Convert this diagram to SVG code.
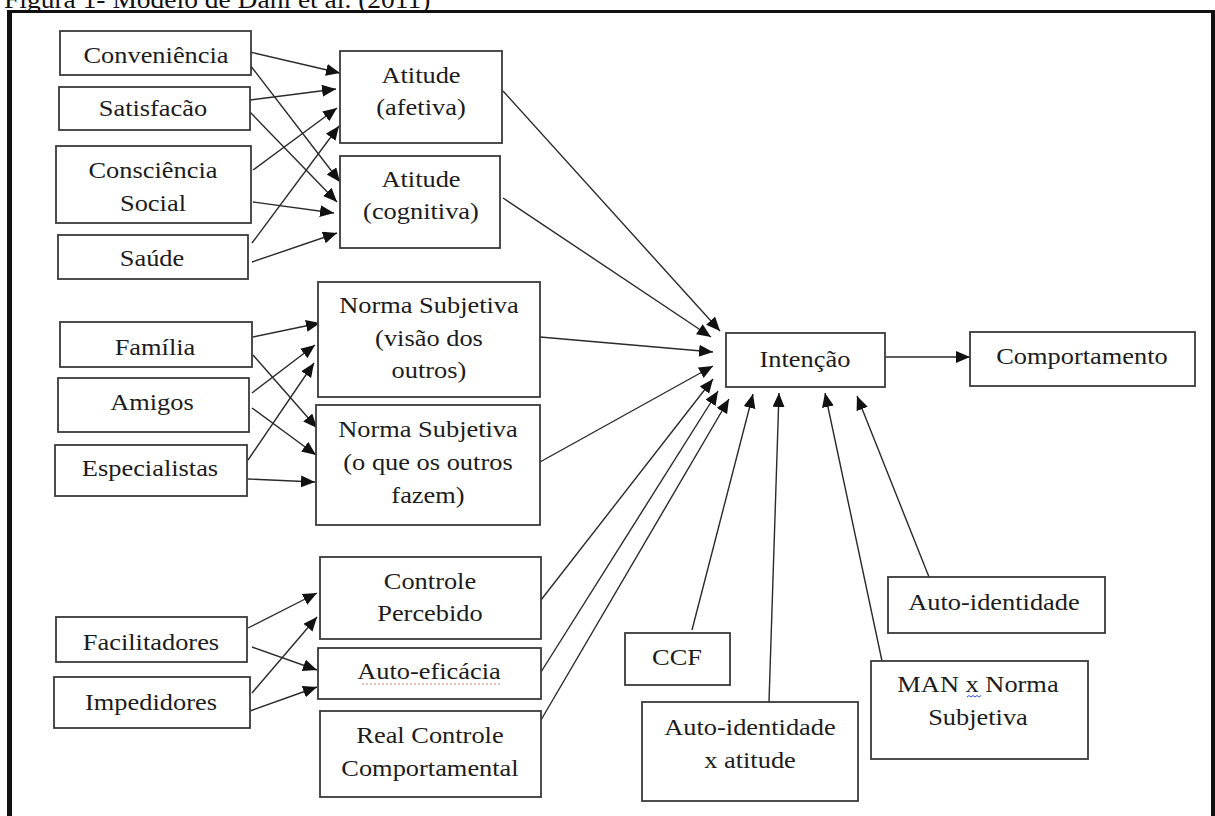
<svg xmlns="http://www.w3.org/2000/svg" width="1215" height="816" viewBox="0 0 1215 816">
<style>
.box { fill: #ffffff; stroke: #3a3a3a; stroke-width: 1.8; }
.t { font-family: "Liberation Serif", "Times New Roman", serif; font-size: 24px; fill: #1c1c1c; text-anchor: middle; transform-box: fill-box; transform-origin: center; transform: scaleX(1.1); }
.ttl { font-family: "Liberation Serif", "Times New Roman", serif; font-size: 25px; fill: #111111; }
.c { stroke: #2a2a2a; stroke-width: 1.4; fill: none; marker-end: url(#ah); }
.frame { stroke: #111111; fill: none; }
</style>
<defs>
<marker id="ah" markerUnits="userSpaceOnUse" markerWidth="16" markerHeight="14" refX="14" refY="6" orient="auto">
<path d="M0,0 L14,6 L0,12 z" fill="#111111"/>
</marker>
</defs>
<rect x="0" y="0" width="1215" height="816" fill="#ffffff"/>
<text class="ttl" transform="translate(4,8) scale(1.1,1)" x="0" y="0">Figura 1- Modelo de Dahl et al. (2011)</text>
<g id="frame">
<line class="frame" x1="7" y1="11.5" x2="1215" y2="11.5" stroke-width="3"/>
<line class="frame" x1="9.5" y1="10" x2="9.5" y2="816" stroke-width="5"/>
<line class="frame" x1="1213" y1="10" x2="1213" y2="816" stroke-width="4"/>
</g>
<g id="connectors">
<line class="c" x1="250" y1="52" x2="340" y2="73"/>
<line class="c" x1="250" y1="65" x2="340" y2="182"/>
<line class="c" x1="250" y1="100" x2="336" y2="89"/>
<line class="c" x1="250" y1="112" x2="337" y2="202"/>
<line class="c" x1="253" y1="170" x2="337" y2="108"/>
<line class="c" x1="253" y1="202" x2="334" y2="213"/>
<line class="c" x1="252" y1="243" x2="339" y2="126"/>
<line class="c" x1="252" y1="262" x2="337" y2="233"/>
<line class="c" x1="253" y1="337" x2="320" y2="323"/>
<line class="c" x1="253" y1="355" x2="317" y2="428"/>
<line class="c" x1="252" y1="393" x2="315" y2="345"/>
<line class="c" x1="252" y1="408" x2="316" y2="455"/>
<line class="c" x1="248" y1="460" x2="314" y2="363"/>
<line class="c" x1="248" y1="479" x2="315" y2="482"/>
<line class="c" x1="248" y1="628" x2="317" y2="593"/>
<line class="c" x1="252" y1="647" x2="317" y2="670"/>
<line class="c" x1="252" y1="693" x2="317" y2="617"/>
<line class="c" x1="250" y1="711" x2="317" y2="687"/>
<line class="c" x1="503" y1="91" x2="720" y2="331"/>
<line class="c" x1="503" y1="198" x2="711" y2="337"/>
<line class="c" x1="540" y1="337" x2="713" y2="352"/>
<line class="c" x1="540" y1="462" x2="713" y2="366"/>
<line class="c" x1="541" y1="600" x2="713" y2="379"/>
<line class="c" x1="541" y1="672" x2="718" y2="391"/>
<line class="c" x1="541" y1="720" x2="729" y2="399"/>
<line class="c" x1="692" y1="630" x2="753" y2="394"/>
<line class="c" x1="769" y1="702" x2="779" y2="393"/>
<line class="c" x1="882" y1="661" x2="825" y2="393"/>
<line class="c" x1="929" y1="577" x2="857" y2="396"/>
<line class="c" x1="886" y1="357" x2="970" y2="357"/>
</g>
<g id="conveniencia"><rect class="box" x="60" y="31" width="191" height="44"/><text class="t" x="156" y="63">Conveniência</text></g>
<g id="satisfacao"><rect class="box" x="59" y="87" width="191" height="43"/><text class="t" x="153" y="116">Satisfacão</text></g>
<g id="consciencia"><rect class="box" x="56" y="146" width="195" height="77"/><text class="t" x="153" y="178">Consciência</text><text class="t" x="153" y="211">Social</text></g>
<g id="saude"><rect class="box" x="58" y="235" width="190" height="44"/><text class="t" x="152" y="266">Saúde</text></g>
<g id="atitude-afetiva"><rect class="box" x="340" y="51" width="162" height="92"/><text class="t" x="421" y="83">Atitude</text><text class="t" x="421" y="115">(afetiva)</text></g>
<g id="atitude-cognitiva"><rect class="box" x="340" y="156" width="160" height="92"/><text class="t" x="421" y="187">Atitude</text><text class="t" x="421" y="219">(cognitiva)</text></g>
<g id="familia"><rect class="box" x="60" y="322" width="192" height="45"/><text class="t" x="155" y="355">Família</text></g>
<g id="amigos"><rect class="box" x="58" y="378" width="191" height="54"/><text class="t" x="152" y="410">Amigos</text></g>
<g id="especialistas"><rect class="box" x="55" y="445" width="192" height="51"/><text class="t" x="150" y="476">Especialistas</text></g>
<g id="norma-visao"><rect class="box" x="318" y="282" width="222" height="115"/><text class="t" x="429" y="313">Norma Subjetiva</text><text class="t" x="429" y="346">(visão dos</text><text class="t" x="429" y="378">outros)</text></g>
<g id="norma-fazem"><rect class="box" x="316" y="405" width="224" height="120"/><text class="t" x="428" y="437">Norma Subjetiva</text><text class="t" x="428" y="470">(o que os outros</text><text class="t" x="428" y="503">fazem)</text></g>
<g id="facilitadores"><rect class="box" x="56" y="617" width="191" height="45"/><text class="t" x="151" y="650">Facilitadores</text></g>
<g id="impedidores"><rect class="box" x="54" y="677" width="196" height="51"/><text class="t" x="151" y="710">Impedidores</text></g>
<g id="controle-percebido"><rect class="box" x="320" y="557" width="221" height="82"/><text class="t" x="430" y="589">Controle</text><text class="t" x="430" y="621">Percebido</text></g>
<g id="auto-eficacia"><rect class="box" x="318" y="648" width="223" height="51"/><text class="t" x="429" y="679">Auto-eficácia</text><path d="M362,684 L500,684" stroke="#e08080" stroke-width="1" stroke-dasharray="2,2" fill="none"/></g>
<g id="real-controle"><rect class="box" x="320" y="711" width="221" height="86"/><text class="t" x="430" y="743">Real Controle</text><text class="t" x="430" y="776">Comportamental</text></g>
<g id="intencao"><rect class="box" x="726" y="333" width="159" height="54"/><text class="t" x="805" y="367">Intenção</text></g>
<g id="comportamento"><rect class="box" x="970" y="332" width="225" height="54"/><text class="t" x="1082" y="364">Comportamento</text></g>
<g id="auto-identidade"><rect class="box" x="888" y="577" width="217" height="56"/><text class="t" x="994" y="610">Auto-identidade</text></g>
<g id="ccf"><rect class="box" x="625" y="633" width="105" height="52"/><text class="t" x="677" y="665">CCF</text></g>
<g id="auto-identidade-atitude"><rect class="box" x="642" y="702" width="216" height="99"/><text class="t" x="750" y="735">Auto-identidade</text><text class="t" x="750" y="768">x atitude</text></g>
<g id="man-norma"><rect class="box" x="871" y="661" width="217" height="98"/><text class="t" x="978" y="692">MAN x Norma</text><text class="t" x="978" y="725">Subjetiva</text><path d="M967,697 l2,-1.5 l2,1.5 l2,-1.5 l2,1.5 l2,-1.5 l2,1.5 l2,-1.5" stroke="#3050e0" stroke-width="1" fill="none"/></g>
</svg>
